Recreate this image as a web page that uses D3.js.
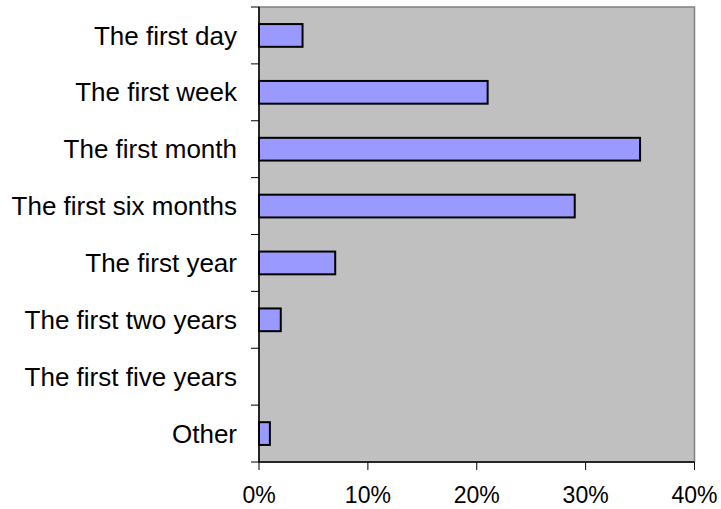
<!DOCTYPE html>
<html><head><meta charset="utf-8">
<script src="https://cdn.jsdelivr.net/npm/d3@7"></script>
<style>body{margin:0;background:#fff}svg{display:block}text{font-family:"Liberation Sans",Arial,sans-serif;fill:#000}</style>
</head><body>
<svg id="c" width="721" height="509"></svg>
<script>
const categories = ["The first day","The first week","The first month","The first six months","The first year","The first two years","The first five years","Other"];
const values = [4, 21, 35, 29, 7, 2, 0, 1];
const xTicks = [0, 10, 20, 30, 40];

const svg = d3.select("#c");
const L = 259, R = 694.5, T = 7, B = 462;
const x = d3.scaleLinear().domain([0, 40]).range([L, R]);
const y = d3.scaleBand().domain(categories).range([T, B]).paddingInner(0.6).paddingOuter(0.3);

svg.append("rect").attr("x", L).attr("y", T).attr("width", R - L).attr("height", B - T)
  .attr("fill", "#c0c0c0").attr("stroke", "#808080").attr("stroke-width", 1.5);

svg.selectAll("rect.bar").data(values).enter().append("rect").attr("class", "bar")
  .attr("x", x(0)).attr("y", (d, i) => y(categories[i]))
  .attr("width", d => x(d) - x(0)).attr("height", y.bandwidth())
  .attr("fill", d => d > 0 ? "#9999ff" : "none").attr("stroke", d => d > 0 ? "#000" : "none").attr("stroke-width", 2);

const yb = d3.scaleLinear().domain([0, categories.length]).range([T, B]);
svg.append("line").attr("x1", L).attr("x2", L).attr("y1", T).attr("y2", B).attr("stroke", "#000").attr("stroke-width", 1.5);
svg.selectAll("line.yt").data(d3.range(categories.length + 1)).enter().append("line")
  .attr("x1", L - 8).attr("x2", L).attr("y1", d => yb(d)).attr("y2", d => yb(d)).attr("stroke", "#000").attr("stroke-width", 1);
svg.selectAll("text.yl").data(categories).enter().append("text")
  .attr("x", 237).attr("y", d => y(d) + y.bandwidth() / 2).attr("dy", "0.35em")
  .attr("text-anchor", "end").attr("font-size", 26).text(d => d);

svg.append("line").attr("x1", L).attr("x2", R).attr("y1", B).attr("y2", B).attr("stroke", "#000").attr("stroke-width", 1.5);
svg.selectAll("line.xt").data(xTicks).enter().append("line")
  .attr("x1", d => x(d)).attr("x2", d => x(d)).attr("y1", B).attr("y2", B + 8).attr("stroke", "#000").attr("stroke-width", 1);
svg.selectAll("text.xl").data(xTicks).enter().append("text")
  .attr("x", d => x(d)).attr("y", 503).attr("text-anchor", "middle").attr("font-size", 23).text(d => d + "%");
</script>
</body></html>
